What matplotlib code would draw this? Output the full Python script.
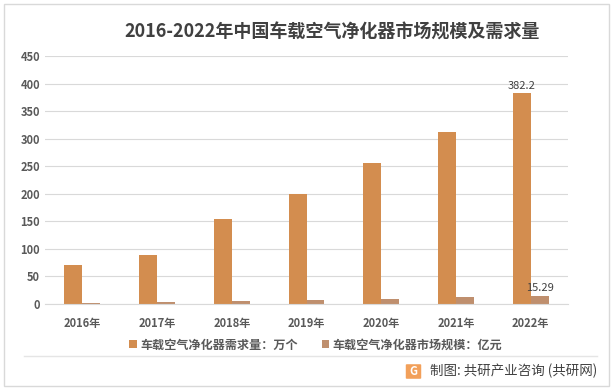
import numpy as np
import matplotlib
matplotlib.use("Agg")
from matplotlib import pyplot as plt
from matplotlib.patches import Rectangle, FancyBboxPatch

plt.rcParams['font.family'] = ['Noto Sans CJK SC', 'DejaVu Sans']

years = ['2016年', '2017年', '2018年', '2019年', '2020年', '2021年', '2022年']
demand = [71, 89, 154, 200, 256, 313, 382.2]      # 万个
market = [1.6, 3.1, 5.2, 7.3, 9.6, 12.4, 15.29]   # 亿元
names = ['车载空气净化器需求量：万个', '车载空气净化器市场规模：亿元']

c1 = '#D38D4F'
c2 = '#BF8F6E'
txt = '#595959'

fig = plt.figure(figsize=(6.11, 3.92), dpi=100)
ax = fig.add_axes([45/611, 1-304/392, 523/611, 248/392])

x = np.arange(len(years))
w = 0.24
ax.bar(x - w/2, demand, w, color=c1, label=names[0], zorder=2)
ax.bar(x + w/2, market, w, color=c2, label=names[1], zorder=2)

ax.set_ylim(0, 450)
ax.set_yticks(range(0, 451, 50))
ax.set_xlim(-0.5, len(years) - 0.5)
ax.set_xticks(x)
ax.set_xticklabels(years)
ax.grid(axis='y', color='#D9D9D9', lw=0.8, zorder=0)
for s in ['top', 'right', 'left']:
    ax.spines[s].set_visible(False)
ax.spines['bottom'].set_color('#D9D9D9')
ax.tick_params(length=0, labelsize=8, colors=txt)
ax.tick_params(axis='x', pad=9)
for lab in ax.get_xticklabels() + ax.get_yticklabels():
    lab.set_fontweight('bold')

ax.text(x[-1] - w/2, demand[-1] + 4, '382.2', ha='center', va='bottom',
        fontsize=8, color='#404040')
ax.text(x[-1] + w/2, market[-1] + 4, '15.29', ha='center', va='bottom',
        fontsize=8, color='#404040')

fig.text(332/611, 1-32/392, '2016-2022年中国车载空气净化器市场规模及需求量', ha='center',
         va='center', fontsize=13, fontweight='bold', color='#404040')

leg = fig.legend(loc='center', bbox_to_anchor=(316/611, 1-345/392), ncol=2,
                 frameon=False, fontsize=8.7, handlelength=0.6, handleheight=0.6,
                 columnspacing=2.0, handletextpad=0.3)
for t in leg.get_texts():
    t.set_color(txt)
    t.set_fontweight('bold')

# outer frame and footer
fig.patches.append(Rectangle((4/611, 6/392), 605/611, 382/392, transform=fig.transFigure,
                             fill=False, ec='#D9D9D9', lw=1))
fig.lines.append(plt.Line2D([24/611, 597/611], [1-356/392, 1-356/392],
                            transform=fig.transFigure, color='#E5E5E5', lw=1))
fig.patches.append(FancyBboxPatch((407/611, 1-378/392), 13/611, 13/392,
                                  boxstyle='round,pad=0.002', transform=fig.transFigure,
                                  fc='#F2A05A', ec='none'))
fig.text(413.5/611, 1-371.5/392, 'G', ha='center', va='center', fontsize=8,
         fontweight='bold', color='white')
fig.text(597/611, 1-371/392, '制图: 共研产业咨询 (共研网)', ha='right', va='center',
         fontsize=9.7, color='#404040')

fig.savefig('out.png', dpi=100)
